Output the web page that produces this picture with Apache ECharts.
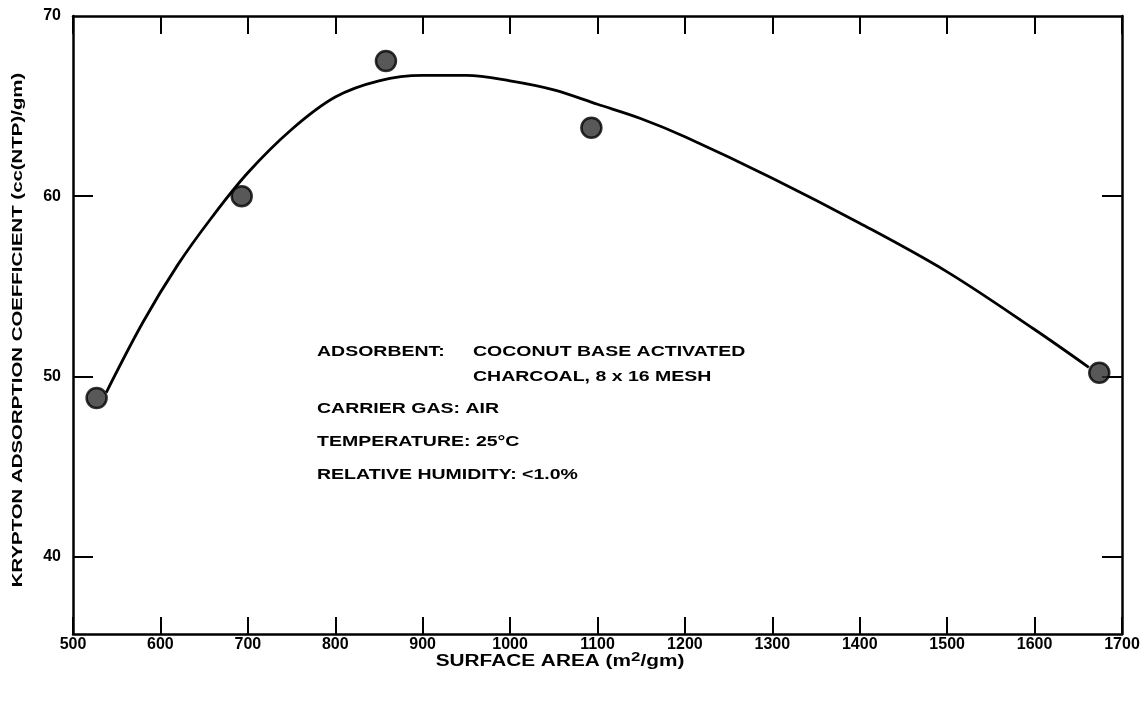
<!DOCTYPE html>
<html>
<head>
<meta charset="utf-8">
<script src="https://cdn.jsdelivr.net/npm/echarts@6/dist/echarts.min.js"></script>
<style>
  html, body { margin: 0; padding: 0; background: #fff; }
  #chart { width: 1146px; height: 702px; }
</style>
</head>
<body>
<div id="chart"></div>
<script>
// Measured samples (surface area vs krypton adsorption coefficient)
const sampleArea = [527, 693, 858, 1093, 1674];
const sampleCoef = [48.8, 60.0, 67.5, 63.8, 50.2];

// Hand-drawn trend curve through the samples
const curveArea = [538, 580, 620, 660, 700, 750, 800, 850, 900, 950, 1000, 1050, 1100, 1150, 1200, 1300, 1400, 1500, 1600, 1662];
const curveCoef = [49.1, 53.0, 56.2, 58.9, 61.3, 63.7, 65.5, 66.4, 66.7, 66.7, 66.4, 65.9, 65.1, 64.3, 63.3, 61.0, 58.5, 55.8, 52.6, 50.5];

// Axis ticks
const xTicks = [500, 600, 700, 800, 900, 1000, 1100, 1200, 1300, 1400, 1500, 1600, 1700];
const yLabelTicks = [40, 50, 60, 70];
const yInnerTicks = [40, 50, 60];

// Test conditions note
const noteKeys = ['ADSORBENT:', 'CARRIER GAS: AIR', 'TEMPERATURE: 25°C', 'RELATIVE HUMIDITY: <1.0%'];
const noteAdsorbent = ['COCONUT BASE ACTIVATED', 'CHARCOAL, 8 x 16 MESH'];

const FONT = '"Liberation Sans", Arial, sans-serif';
const INK = '#000';
const WIDE = 1.3; // horizontal stretch for the wide lettering

const chart = echarts.init(document.getElementById('chart'), null, { renderer: 'canvas' });

const frameLine = { show: true, lineStyle: { color: INK, width: 2.5 } };
const innerTick = len => ({ show: true, inside: true, length: len, lineStyle: { color: INK, width: 2 } });

const noteText = (text, x, y) => ({
  type: 'text', x: x, y: y, scaleX: WIDE,
  style: { text: text, fill: INK, font: 'bold 15px ' + FONT, verticalAlign: 'middle' }
});

const option = {
  backgroundColor: '#fff',
  animation: false,
  grid: { left: 73, right: 24, top: 16, bottom: 68 },
  xAxis: [
    {
      type: 'value', position: 'bottom',
      min: xTicks[0], max: xTicks[xTicks.length - 1], interval: 100,
      axisLine: frameLine,
      axisTick: innerTick(17),
      axisLabel: { color: INK, fontFamily: FONT, fontWeight: 'bold', fontSize: 16, margin: 3, formatter: v => String(v) },
      splitLine: { show: false }
    },
    {
      type: 'value', position: 'top',
      min: xTicks[0], max: xTicks[xTicks.length - 1], interval: 100,
      axisLine: frameLine,
      axisTick: innerTick(18),
      axisLabel: { show: false },
      splitLine: { show: false }
    }
  ],
  yAxis: [
    {
      type: 'value', position: 'left',
      min: 35.7, max: 70,
      axisLine: frameLine,
      axisTick: Object.assign(innerTick(20), { customValues: yInnerTicks }),
      axisLabel: { color: INK, fontFamily: FONT, fontWeight: 'bold', fontSize: 16, margin: 12, customValues: yLabelTicks, formatter: v => String(v) },
      splitLine: { show: false }
    },
    {
      type: 'value', position: 'right',
      min: 35.7, max: 70,
      axisLine: frameLine,
      axisTick: Object.assign(innerTick(20), { customValues: yInnerTicks }),
      axisLabel: { show: false },
      splitLine: { show: false }
    }
  ],
  series: [
    {
      type: 'line',
      data: curveArea.map((a, i) => [a, curveCoef[i]]),
      smooth: 0.35,
      showSymbol: false,
      lineStyle: { color: INK, width: 2.8 },
      z: 2
    },
    {
      type: 'scatter',
      data: sampleArea.map((a, i) => [a, sampleCoef[i]]),
      symbol: 'circle',
      symbolSize: 20,
      itemStyle: { color: '#2e2e2e', borderColor: INK, borderWidth: 2.5 },
      z: 3
    }
  ],
  graphic: [
    {
      type: 'text', x: 18, y: 330, rotation: Math.PI / 2, scaleX: 1.36,
      style: {
        text: 'KRYPTON ADSORPTION COEFFICIENT (cc(NTP)/gm)',
        fill: INK, font: 'bold 15px ' + FONT, align: 'center', verticalAlign: 'middle'
      }
    },
    {
      type: 'text', x: 560, y: 662, scaleX: WIDE,
      style: {
        text: 'SURFACE AREA (m{sup|2}/gm)',
        fill: INK, font: 'bold 16px ' + FONT, align: 'center', verticalAlign: 'middle',
        rich: {
          sup: { fill: INK, font: 'bold 13px ' + FONT, padding: [0, 0, 9, 0] }
        }
      }
    },
    noteText(noteKeys[0], 317, 352),
    noteText(noteAdsorbent[0], 473, 352),
    noteText(noteAdsorbent[1], 473, 377),
    noteText(noteKeys[1], 317, 409),
    noteText(noteKeys[2], 317, 442),
    noteText(noteKeys[3], 317, 475)
  ]
};

chart.setOption(option);
</script>
</body>
</html>
